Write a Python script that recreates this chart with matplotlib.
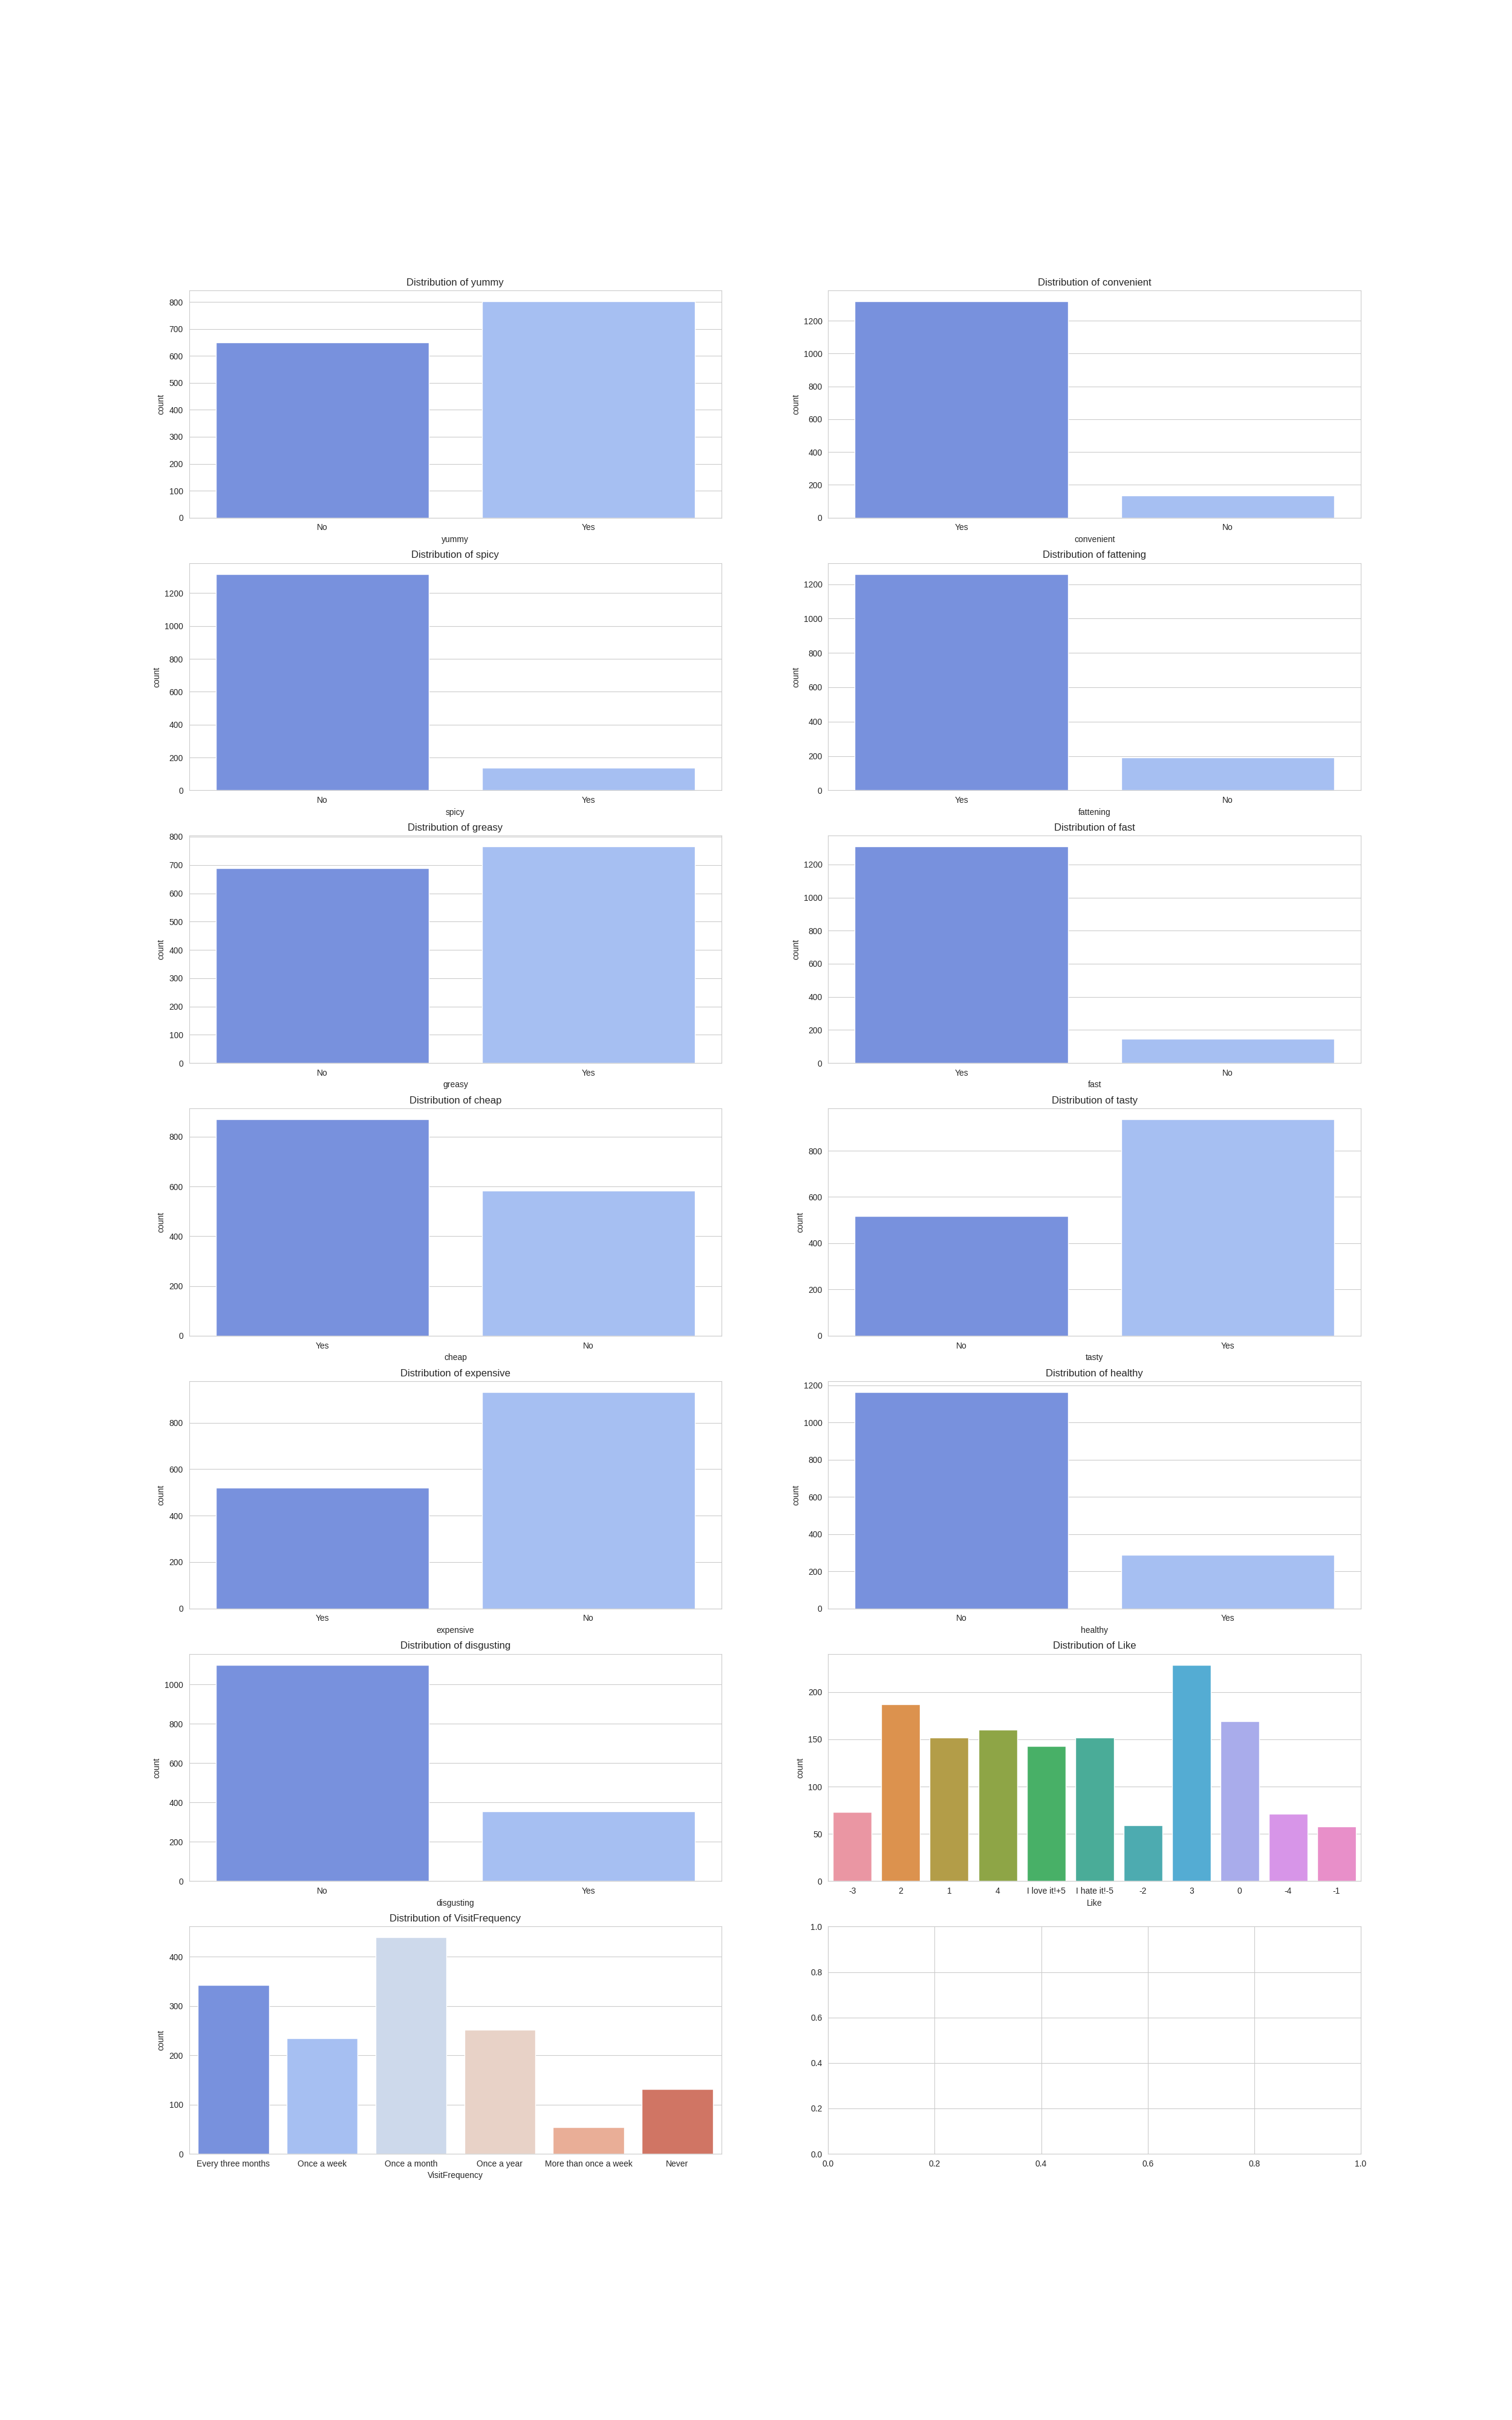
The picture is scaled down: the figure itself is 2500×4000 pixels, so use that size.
import matplotlib
matplotlib.use("Agg")
import matplotlib.pyplot as plt
import seaborn as sns

# yes/no attributes: category order and counts as they appear in each panel
yummy_cats = ["No", "Yes"]
yummy_counts = [650, 803]
convenient_cats = ["Yes", "No"]
convenient_counts = [1319, 134]
spicy_cats = ["No", "Yes"]
spicy_counts = [1317, 136]
fattening_cats = ["Yes", "No"]
fattening_counts = [1260, 193]
greasy_cats = ["No", "Yes"]
greasy_counts = [688, 765]
fast_cats = ["Yes", "No"]
fast_counts = [1308, 145]
cheap_cats = ["Yes", "No"]
cheap_counts = [870, 583]
tasty_cats = ["No", "Yes"]
tasty_counts = [517, 936]
expensive_cats = ["Yes", "No"]
expensive_counts = [520, 933]
healthy_cats = ["No", "Yes"]
healthy_counts = [1164, 289]
disgusting_cats = ["No", "Yes"]
disgusting_counts = [1100, 353]

like_cats = ["-3", "2", "1", "4", "I love it!+5", "I hate it!-5", "-2", "3", "0", "-4", "-1"]
like_counts = [73, 187, 152, 160, 143, 152, 59, 229, 169, 71, 58]

visit_cats = ["Every three months", "Once a week", "Once a month", "Once a year",
              "More than once a week", "Never"]
visit_counts = [342, 235, 439, 252, 54, 131]

panels = [
    ("yummy", yummy_cats, yummy_counts),
    ("convenient", convenient_cats, convenient_counts),
    ("spicy", spicy_cats, spicy_counts),
    ("fattening", fattening_cats, fattening_counts),
    ("greasy", greasy_cats, greasy_counts),
    ("fast", fast_cats, fast_counts),
    ("cheap", cheap_cats, cheap_counts),
    ("tasty", tasty_cats, tasty_counts),
    ("expensive", expensive_cats, expensive_counts),
    ("healthy", healthy_cats, healthy_counts),
    ("disgusting", disgusting_cats, disgusting_counts),
    ("Like", like_cats, like_counts),
    ("VisitFrequency", visit_cats, visit_counts),
]

sns.set_style("whitegrid")
plt.rcParams["font.family"] = ["Liberation Sans", "DejaVu Sans"]

base = sns.color_palette("coolwarm", 6)


def bar_colors(n):
    # same rule the old countplot used: current palette, or husl when too short
    pal = base[:n] if n <= len(base) else sns.husl_palette(n, l=.7)
    return [sns.desaturate(c, 0.75) for c in pal]


fig, axes = plt.subplots(7, 2, figsize=(25, 40))
axes = axes.flatten()

for ax, (col, cats, counts) in zip(axes, panels):
    x = range(len(cats))
    ax.bar(x, counts, width=0.8, color=bar_colors(len(cats)))
    ax.set_xticks(list(x))
    ax.set_xticklabels(cats)
    ax.set_xlim(-0.5, len(cats) - 0.5)
    ax.xaxis.grid(False)
    ax.set_xlabel(col)
    ax.set_ylabel("count")
    ax.set_title(f"Distribution of {col}")

plt.savefig("out.png", dpi=100)
plt.close()
